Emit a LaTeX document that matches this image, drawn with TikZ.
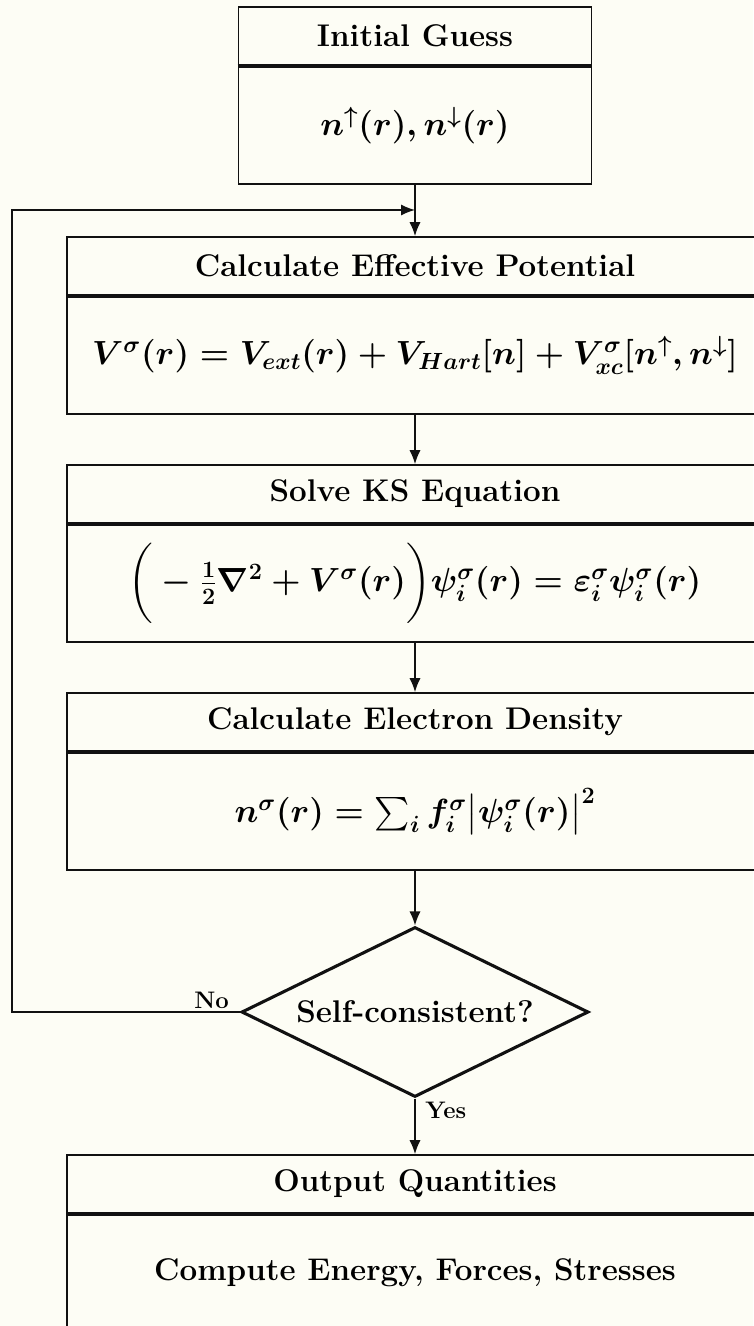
\RequirePackage{fix-cm}
\documentclass[tikz,border=0pt]{standalone}
\usepackage{amsmath, amssymb}
\usepackage{tikz}
\usetikzlibrary{arrows.meta, positioning, shapes.geometric}
\usepackage{xcolor}
\definecolor{paper}{HTML}{FDFDF5}
\definecolor{ink}{HTML}{111111}
\newcommand{\bigfont}{\fontsize{22.3}{27}\selectfont}
\newcommand{\mathfont}{\fontsize{23.8}{28}\selectfont}
\newcommand{\labfont}{\fontsize{17}{20}\selectfont}

\begin{document}
\begin{tikzpicture}[
  head/.style={draw=ink, line width=1.2pt, minimum height=1.45cm,
    inner sep=0pt, font=\bigfont\bfseries, align=center},
  body/.style={draw=ink, line width=1.2pt, minimum height=2.925cm,
    inner sep=0pt, font=\mathfont\bfseries\boldmath, align=center},
  wide/.style={minimum width=17.4cm},
  narrow/.style={minimum width=8.825cm},
  split/.style={ink, line width=2.4pt},
  decide/.style={draw=ink, diamond, aspect=2.04, line width=2.2pt,
    minimum width=8.675cm, minimum height=4.25cm, inner sep=0pt,
    font=\bigfont\bfseries},
  arr/.style={-{Latex[length=3.5mm, width=2.8mm]}, ink, line width=1.1pt},
  lbl/.style={inner sep=0pt, font=\labfont\bfseries}
]
  % Page
  \fill[paper] (-10.375, -33.15) rectangle (8.45, 0);
  \useasboundingbox (-10.375, -33.15) rectangle (8.45, 0);

  % Stack
  \node[head, narrow] (init) at (0, -0.9) {Initial Guess};
  \node[body, narrow, below=0pt of init] (initb)
    {$n^{\uparrow}(r), n^{\downarrow}(r)$};
  \node[head, wide] (pot) at (0, -6.65) {Calculate Effective Potential};
  \node[body, wide, below=0pt of pot] (potb)
    {$V^{\sigma}(r) = V_{ext}(r) + V_{Hart}[n]
      + V^{\sigma}_{xc}[n^{\uparrow}, n^{\downarrow}]$};
  \node[head, wide] (ks) at (0, -12.35) {Solve KS Equation};
  \node[body, wide, below=0pt of ks] (ksb)
    {$\bigg(-\frac{1}{2}\nabla^2 + V^{\sigma}(r)\bigg)\psi^{\sigma}_i(r)
      = \varepsilon^{\sigma}_i\psi^{\sigma}_i(r)$};
  \node[head, wide] (dens) at (0, -18.05) {Calculate Electron Density};
  \node[body, wide, below=0pt of dens] (densb)
    {$n^{\sigma}(r) = \sum_i f^{\sigma}_i\big|\psi^{\sigma}_i(r)\big|^2$};
  \node[decide] (sc) at (0, -25.3) {Self-consistent?};
  \node[head, wide] (out) at (0, -29.6) {Output Quantities};
  \node[body, wide, font=\bigfont\bfseries, below=0pt of out] (outb)
    {Compute Energy, Forces, Stresses};

  % Dividers
  \foreach \n in {init, pot, ks, dens, out}
    \draw[split] (\n.south west) -- (\n.south east);

  % Arrows
  \coordinate (merge) at (0, -5.25);
  \coordinate (loop) at (-10.075, -5.25);
  \draw[arr] (initb) -- (pot);
  \draw[arr] (potb) -- (ks);
  \draw[arr] (ksb) -- (dens);
  \draw[arr] (densb) -- (sc);
  \draw[arr] (sc) -- (out);
  \draw[arr] (sc.west) -| (loop) -- (merge);

  % Labels
  \node[lbl, anchor=south east] (no)
    at ([xshift=-0.27cm, yshift=0.07cm]sc.west) {No};
  \node[lbl, anchor=north west] (yes)
    at ([xshift=0.25cm, yshift=-0.08cm]sc.south) {Yes};
\end{tikzpicture}
\end{document}
